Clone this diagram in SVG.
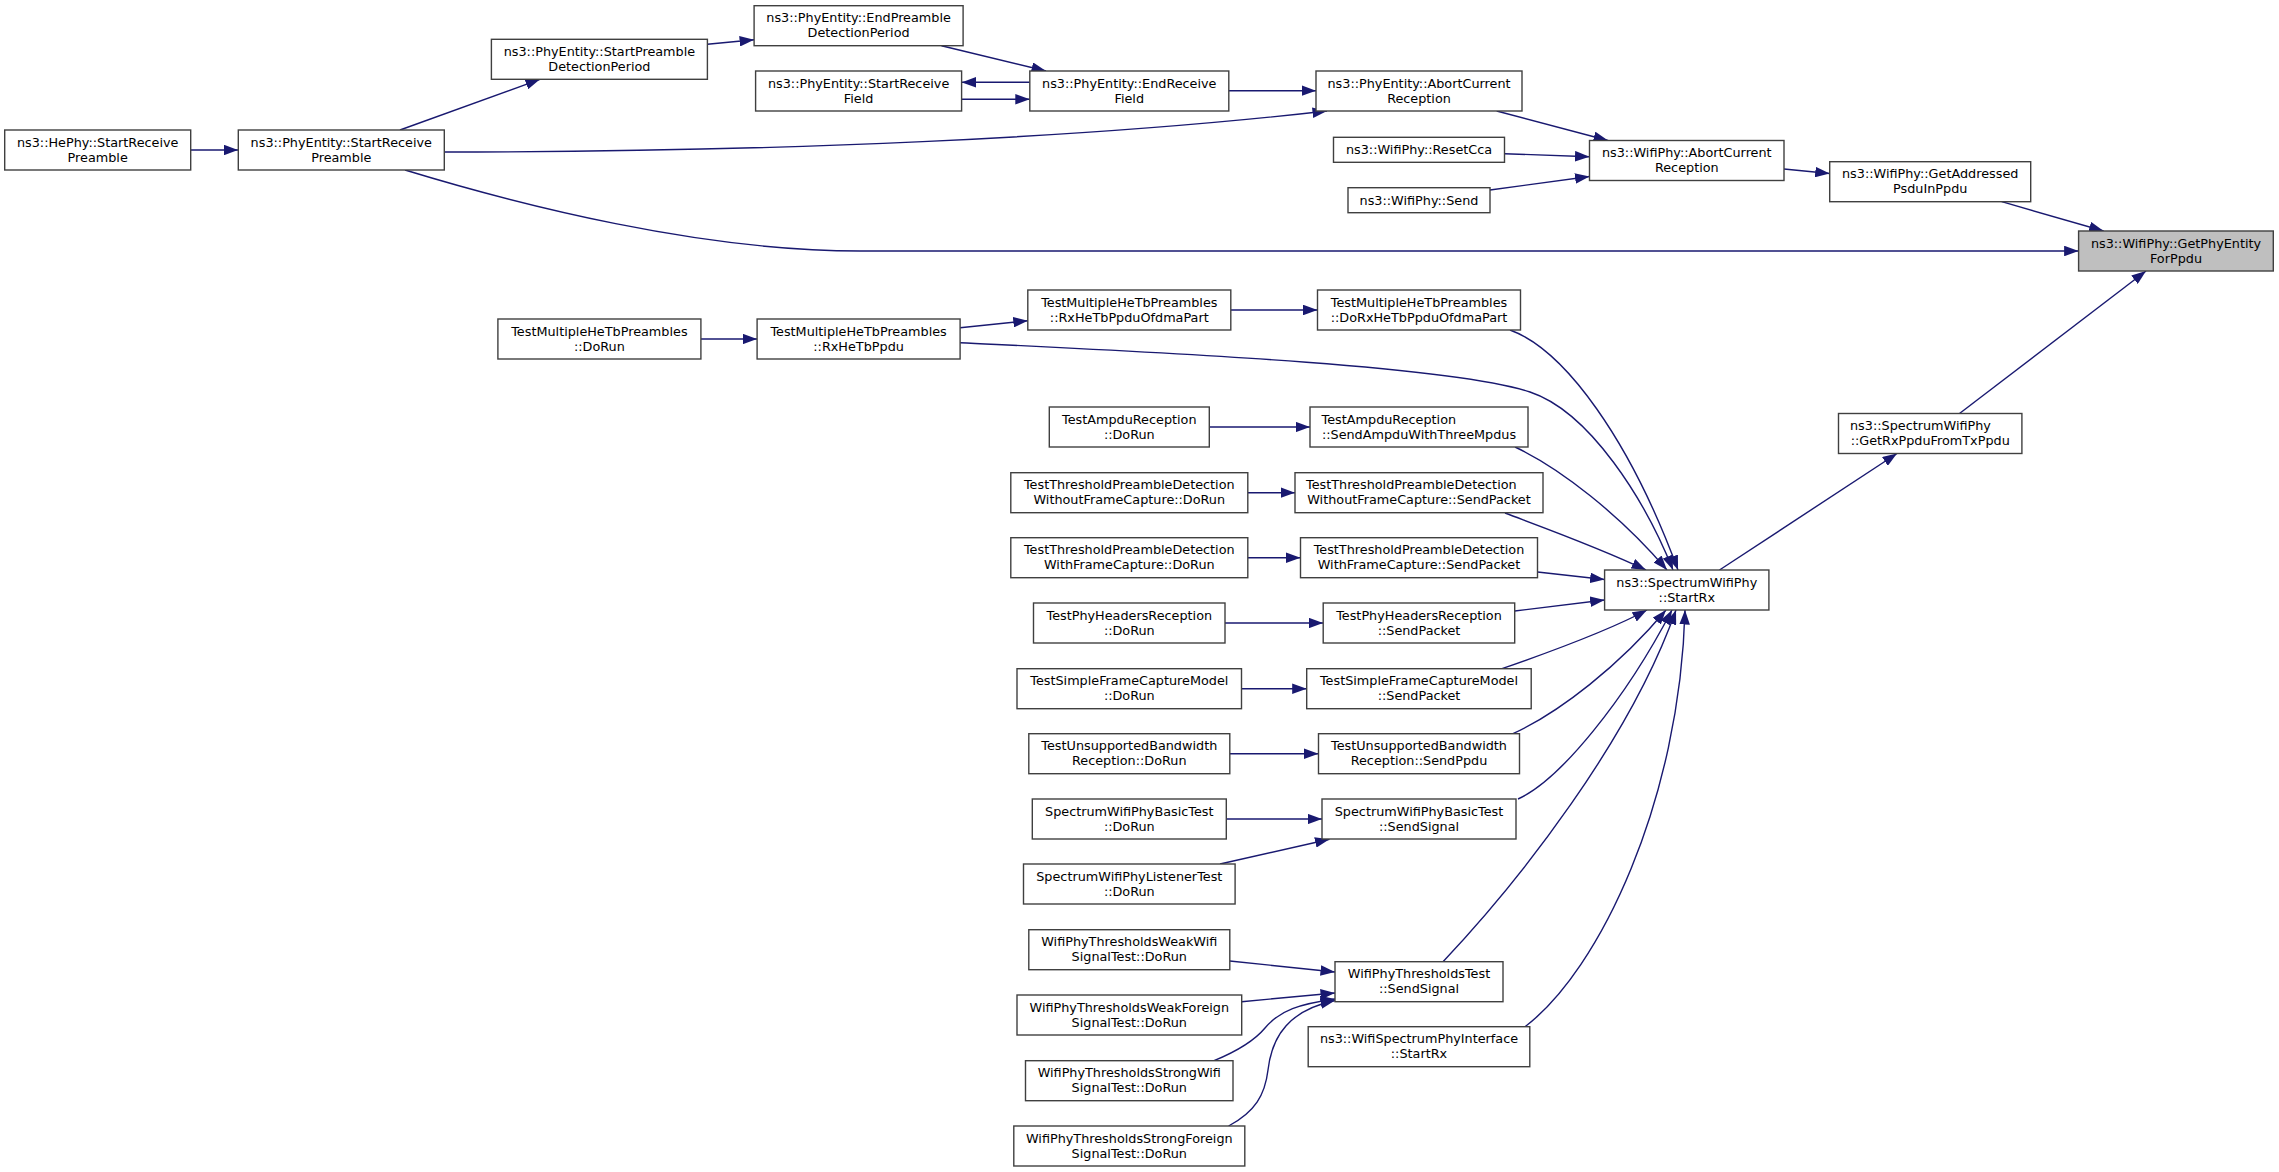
<svg xmlns="http://www.w3.org/2000/svg" width="2279" height="1172" viewBox="0 0 2279 1172">
<style>
.n rect{fill:#ffffff;stroke:#404040;stroke-width:1.4}
.m rect{fill:#bfbfbf;stroke:#404040;stroke-width:1.4}
text{font-family:"DejaVu Sans","Liberation Sans",sans-serif;font-size:12.8px;text-anchor:middle;fill:#000000}
text.l{text-anchor:start}
#edges path{fill:none;stroke:#191970;stroke-width:1.4;marker-end:url(#ah)}
</style>
<defs>
<marker id="ah" viewBox="0 0 14.5 10.6" refX="14.5" refY="5.3" markerWidth="14.5" markerHeight="10.6" markerUnits="userSpaceOnUse" orient="auto">
<path d="M0,0 L14.5,5.3 L0,10.6 z" fill="#191970"/>
</marker>
</defs>
<rect x="0" y="0" width="2279" height="1172" fill="#ffffff"/>
<g id="edges">
<path d="M190.7,150 L238.3,150"/>
<path d="M400,130 L540,79.3"/>
<path d="M444.3,152 C780,152 1090,138 1327,111"/>
<path d="M405,170 C520,205 700,251 860,251 L2078.6,251"/>
<path d="M707.4,44.3 L754.1,39.8"/>
<path d="M941.5,45.7 L1046,71"/>
<path d="M1029.8,82.3 L961.6,82.3"/>
<path d="M961.6,99.3 L1029.8,99.3"/>
<path d="M1228.8,90.7 L1316,90.7"/>
<path d="M1496.7,111 L1608,140.5"/>
<path d="M1504.5,153.7 L1589.5,156.7"/>
<path d="M1490,190 L1589.5,176.5"/>
<path d="M1784,169 L1829.7,173.5"/>
<path d="M2001.7,201.7 L2103.6,231"/>
<path d="M1959.5,413.5 L2146,271"/>
<path d="M1719.5,570 L1897,453.5"/>
<path d="M700.9,339 L757.1,339"/>
<path d="M960.1,327.7 L1027.8,320.7"/>
<path d="M960.1,342.7 C1150,352 1450,365 1530,392 C1590,412 1645,500 1673,570"/>
<path d="M1230.8,310 L1317.5,310"/>
<path d="M1510,330 C1565,350 1630,440 1678,570"/>
<path d="M1209.3,427 L1310,427"/>
<path d="M1515,447 C1560,468 1620,515 1667,570"/>
<path d="M1247.8,492.7 L1295,492.7"/>
<path d="M1505,513 C1550,530 1600,548 1646,570"/>
<path d="M1247.8,557.7 L1300.5,557.7"/>
<path d="M1537.5,572 L1604.6,579.5"/>
<path d="M1225,623 L1323.2,623"/>
<path d="M1514.7,611 L1604.6,600"/>
<path d="M1241.5,688.7 L1306.7,688.7"/>
<path d="M1502,668.7 C1550,652 1610,630 1647,610"/>
<path d="M1229.8,753.7 L1318.5,753.7"/>
<path d="M1513,733.7 C1560,712 1620,665 1666,610"/>
<path d="M1226.3,819 L1322,819"/>
<path d="M1220,864 L1329.5,839.2"/>
<path d="M1518,799 C1560,780 1625,700 1672,610"/>
<path d="M1229.8,961 L1335,972"/>
<path d="M1241.6,1001.7 L1335,993"/>
<path d="M1214,1060.7 C1240,1050 1255,1040 1265,1028 C1280,1010 1300,1004 1335,999"/>
<path d="M1228.6,1126 C1255,1112 1265,1095 1268,1070 C1272,1035 1290,1010 1335,1000.5"/>
<path d="M1443,961.7 C1520,880 1630,740 1676,610"/>
<path d="M1525,1026.7 C1600,970 1680,800 1685,610"/>
</g>
<g id="n_hephy" class="n"><rect x="4.7" y="130" width="186" height="40"/><text x="97.7" y="146.6">ns3::HePhy::StartReceive</text><text x="97.7" y="161.6">Preamble</text></g>
<g id="n_srp" class="n"><rect x="238.3" y="130" width="206" height="40"/><text x="341.3" y="146.6">ns3::PhyEntity::StartReceive</text><text x="341.3" y="161.6">Preamble</text></g>
<g id="n_spdp" class="n"><rect x="491.4" y="39.3" width="216" height="40"/><text x="599.4" y="55.9">ns3::PhyEntity::StartPreamble</text><text x="599.4" y="70.9">DetectionPeriod</text></g>
<g id="n_tmdorun" class="n"><rect x="497.9" y="319" width="203" height="40"/><text x="599.4" y="335.6">TestMultipleHeTbPreambles</text><text x="599.4" y="350.6">::DoRun</text></g>
<g id="n_epdp" class="n"><rect x="754.1" y="5.7" width="209" height="40"/><text x="858.6" y="22.3">ns3::PhyEntity::EndPreamble</text><text x="858.6" y="37.3">DetectionPeriod</text></g>
<g id="n_srf" class="n"><rect x="755.6" y="71" width="206" height="40"/><text x="858.6" y="87.6">ns3::PhyEntity::StartReceive</text><text x="858.6" y="102.6">Field</text></g>
<g id="n_rxhetb" class="n"><rect x="757.1" y="319" width="203" height="40"/><text x="858.6" y="335.6">TestMultipleHeTbPreambles</text><text x="858.6" y="350.6">::RxHeTbPpdu</text></g>
<g id="n_erf" class="n"><rect x="1029.8" y="71" width="199" height="40"/><text x="1129.3" y="87.6">ns3::PhyEntity::EndReceive</text><text x="1129.3" y="102.6">Field</text></g>
<g id="n_ofdma" class="n"><rect x="1027.8" y="290" width="203" height="40"/><text x="1129.3" y="306.6">TestMultipleHeTbPreambles</text><text x="1129.3" y="321.6">::RxHeTbPpduOfdmaPart</text></g>
<g id="n_ampdudorun" class="n"><rect x="1049.3" y="407" width="160" height="40"/><text x="1129.3" y="423.6">TestAmpduReception</text><text x="1129.3" y="438.6">::DoRun</text></g>
<g id="n_wodorun" class="n"><rect x="1010.8" y="472.7" width="237" height="40"/><text x="1129.3" y="489.3">TestThresholdPreambleDetection</text><text x="1129.3" y="504.3">WithoutFrameCapture::DoRun</text></g>
<g id="n_wdorun" class="n"><rect x="1010.8" y="537.7" width="237" height="40"/><text x="1129.3" y="554.3">TestThresholdPreambleDetection</text><text x="1129.3" y="569.3">WithFrameCapture::DoRun</text></g>
<g id="n_phdorun" class="n"><rect x="1033.5" y="603" width="191.5" height="40"/><text x="1129.3" y="619.6">TestPhyHeadersReception</text><text x="1129.3" y="634.6">::DoRun</text></g>
<g id="n_sfdorun" class="n"><rect x="1017" y="668.7" width="224.5" height="40"/><text x="1129.3" y="685.3">TestSimpleFrameCaptureModel</text><text x="1129.3" y="700.3">::DoRun</text></g>
<g id="n_ubdorun" class="n"><rect x="1028.8" y="733.7" width="201" height="40"/><text x="1129.3" y="750.3">TestUnsupportedBandwidth</text><text x="1129.3" y="765.3">Reception::DoRun</text></g>
<g id="n_btdorun" class="n"><rect x="1032.3" y="799" width="194" height="40"/><text x="1129.3" y="815.6">SpectrumWifiPhyBasicTest</text><text x="1129.3" y="830.6">::DoRun</text></g>
<g id="n_ltdorun" class="n"><rect x="1023.5" y="864" width="211.6" height="40"/><text x="1129.3" y="880.6">SpectrumWifiPhyListenerTest</text><text x="1129.3" y="895.6">::DoRun</text></g>
<g id="n_wwdorun" class="n"><rect x="1028.8" y="929.7" width="201" height="40"/><text x="1129.3" y="946.3">WifiPhyThresholdsWeakWifi</text><text x="1129.3" y="961.3">SignalTest::DoRun</text></g>
<g id="n_wfdorun" class="n"><rect x="1017" y="995" width="224.7" height="40"/><text x="1129.3" y="1011.6">WifiPhyThresholdsWeakForeign</text><text x="1129.3" y="1026.6">SignalTest::DoRun</text></g>
<g id="n_swdorun" class="n"><rect x="1025.5" y="1060.7" width="207.5" height="40"/><text x="1129.3" y="1077.3">WifiPhyThresholdsStrongWifi</text><text x="1129.3" y="1092.3">SignalTest::DoRun</text></g>
<g id="n_sfodorun" class="n"><rect x="1013.8" y="1126" width="231" height="40"/><text x="1129.3" y="1142.6">WifiPhyThresholdsStrongForeign</text><text x="1129.3" y="1157.6">SignalTest::DoRun</text></g>
<g id="n_pac" class="n"><rect x="1316" y="71" width="206" height="40"/><text x="1419" y="87.6">ns3::PhyEntity::AbortCurrent</text><text x="1419" y="102.6">Reception</text></g>
<g id="n_resetcca" class="n"><rect x="1333.5" y="137.3" width="171" height="25"/><text x="1419" y="154.1">ns3::WifiPhy::ResetCca</text></g>
<g id="n_send" class="n"><rect x="1348" y="187.7" width="142" height="25"/><text x="1419" y="204.5">ns3::WifiPhy::Send</text></g>
<g id="n_dorxhetb" class="n"><rect x="1317.5" y="290" width="203" height="40"/><text x="1419" y="306.6">TestMultipleHeTbPreambles</text><text x="1419" y="321.6">::DoRxHeTbPpduOfdmaPart</text></g>
<g id="n_sendampdu" class="n"><rect x="1310" y="407" width="218" height="40"/><text class="l" x="1321.6" y="423.6">TestAmpduReception</text><text x="1419" y="438.6">::SendAmpduWithThreeMpdus</text></g>
<g id="n_wosp" class="n"><rect x="1295" y="472.7" width="248" height="40"/><text class="l" x="1306" y="489.3">TestThresholdPreambleDetection</text><text x="1419" y="504.3">WithoutFrameCapture::SendPacket</text></g>
<g id="n_wsp" class="n"><rect x="1300.5" y="537.7" width="237" height="40"/><text x="1419" y="554.3">TestThresholdPreambleDetection</text><text x="1419" y="569.3">WithFrameCapture::SendPacket</text></g>
<g id="n_phsp" class="n"><rect x="1323.2" y="603" width="191.5" height="40"/><text x="1419" y="619.6">TestPhyHeadersReception</text><text x="1419" y="634.6">::SendPacket</text></g>
<g id="n_sfsp" class="n"><rect x="1306.7" y="668.7" width="224.5" height="40"/><text x="1419" y="685.3">TestSimpleFrameCaptureModel</text><text x="1419" y="700.3">::SendPacket</text></g>
<g id="n_ubsp" class="n"><rect x="1318.5" y="733.7" width="201" height="40"/><text x="1419" y="750.3">TestUnsupportedBandwidth</text><text x="1419" y="765.3">Reception::SendPpdu</text></g>
<g id="n_btss" class="n"><rect x="1322" y="799" width="194" height="40"/><text x="1419" y="815.6">SpectrumWifiPhyBasicTest</text><text x="1419" y="830.6">::SendSignal</text></g>
<g id="n_ttss" class="n"><rect x="1335" y="961.7" width="168" height="40"/><text x="1419" y="978.3">WifiPhyThresholdsTest</text><text x="1419" y="993.3">::SendSignal</text></g>
<g id="n_iface" class="n"><rect x="1308.2" y="1026.7" width="221.6" height="40"/><text x="1419" y="1043.3">ns3::WifiSpectrumPhyInterface</text><text x="1419" y="1058.3">::StartRx</text></g>
<g id="n_wac" class="n"><rect x="1589.5" y="140.5" width="194.5" height="40"/><text x="1686.8" y="157.1">ns3::WifiPhy::AbortCurrent</text><text x="1686.8" y="172.1">Reception</text></g>
<g id="n_startrx" class="n"><rect x="1604.6" y="570" width="164.3" height="40"/><text x="1686.8" y="586.6">ns3::SpectrumWifiPhy</text><text x="1686.8" y="601.6">::StartRx</text></g>
<g id="n_getaddr" class="n"><rect x="1829.7" y="161.7" width="201" height="40"/><text x="1930.2" y="178.3">ns3::WifiPhy::GetAddressed</text><text x="1930.2" y="193.3">PsduInPpdu</text></g>
<g id="n_getrx" class="n"><rect x="1838.5" y="413.5" width="183.4" height="40"/><text class="l" x="1850" y="430.1">ns3::SpectrumWifiPhy</text><text x="1930.2" y="445.1">::GetRxPpduFromTxPpdu</text></g>
<g id="n_getphy" class="m"><rect x="2078.6" y="231" width="194.7" height="40"/><text x="2176" y="247.6">ns3::WifiPhy::GetPhyEntity</text><text x="2176" y="262.6">ForPpdu</text></g>
</svg>
